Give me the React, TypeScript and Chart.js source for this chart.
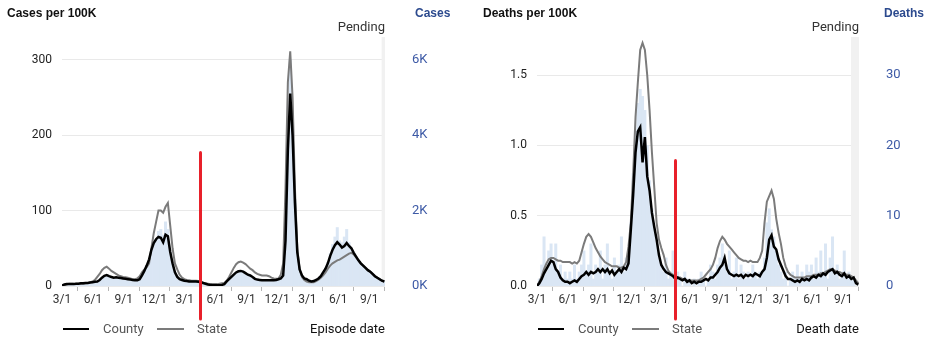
import React, { useEffect, useRef } from "react";
import { Chart, registerables } from "chart.js";
Chart.register(...registerables);

// Weekly series, week 0 = 2020-03-01, one value every 7 days
const WEEK_DAYS = 7;
const X_MAX_DAY = 961; // ~2022-10-18
const MARKER_DAY = 411; // 2021-04-16

const tickDays = [0, 92, 184, 275, 365, 457, 549, 640, 730, 822, 914];
const tickLabels = ["3/1", "6/1", "9/1", "12/1", "3/1", "6/1", "9/1", "12/1", "3/1", "6/1", "9/1"];

// Cases per 100K (7-day avg)
const casesCounty = [
  0.5, 2, 2.5, 2.5, 2.5, 2.5, 3, 3, 3.5, 3.5, 4, 4, 4.5,
  5, 5.5, 6, 8, 11, 13.5, 14.5, 13, 12, 11, 11.5, 11, 10.5,
  10, 9.5, 9, 8.5, 8, 7.5, 7.5, 9, 14, 20, 27, 35, 48,
  57, 62, 65, 64, 58, 68, 66, 45, 30, 18, 12, 9, 8,
  7, 6.5, 6, 6, 6, 6, 5.5, 5, 4, 3, 2, 1.5, 1,
  1, 1, 1, 1.5, 2.5, 6, 9, 12, 15, 18, 19.5, 20, 19,
  17, 15, 14, 12, 9.5, 8.5, 8, 7.5, 7.5, 7.5, 7.5, 7.5, 7.5,
  8, 9, 10, 14, 60, 180, 255, 200, 110, 45, 22, 14, 10,
  9, 7, 6, 6.5, 8, 10, 13, 18, 23, 30, 40, 48, 54,
  58, 55, 51, 53, 57, 53, 50, 44, 39, 34, 30, 27, 24,
  21, 19, 16, 13, 11, 9, 7, 6,
];
const casesState = [
  0, 1, 2, 3, 3, 3, 3, 3, 3, 3, 3.5, 4, 5,
  6, 8, 12, 16, 21, 24, 25.5, 23, 20, 18, 16, 14, 13,
  12, 11.5, 11, 10, 9, 9, 10, 13, 18, 22, 25, 30, 50,
  70, 85, 100, 100, 97, 105, 110, 80, 50, 30, 22, 15, 11,
  9, 8, 7.5, 7, 7, 7, 6.5, 6, 4.5, 3.5, 3, 2.5, 2.5,
  2.5, 2.5, 3, 3.5, 4, 7, 12, 18, 24, 29, 31.5, 32.5, 31,
  29, 26, 23, 21, 18, 16, 15, 14, 14, 14, 13, 11, 10,
  9.5, 10, 15, 30, 130, 270, 311, 250, 130, 50, 22, 12, 8,
  6, 5, 5, 5, 6.5, 8.5, 11, 14, 18, 23, 27, 30, 32,
  34, 35, 37, 39, 41, 43, 44, 42, 38, 34, 30, 27, 24,
  21, 19, 16, 13, 11, 9, 7, 6,
];
// Daily county cases
const casesDaily = [
  10, 40, 50, 50, 50, 50, 60, 60, 70, 70, 80, 80, 90,
  100, 110, 120, 160, 220, 270, 290, 260, 240, 220, 230, 220, 210,
  200, 190, 180, 170, 160, 150, 150, 180, 280, 400, 540, 700, 960,
  1150, 1250, 1450, 1500, 1350, 1700, 1500, 900, 600, 360, 240, 180, 160,
  140, 130, 120, 120, 120, 120, 110, 100, 80, 60, 40, 30, 20,
  20, 20, 20, 30, 50, 120, 180, 240, 300, 360, 400, 410, 380,
  340, 300, 280, 240, 190, 170, 160, 150, 150, 150, 150, 150, 150,
  160, 180, 200, 300, 1300, 3800, 6000, 4300, 2300, 900, 440, 280, 200,
  180, 140, 120, 130, 160, 200, 260, 360, 480, 620, 860, 1100, 1300,
  1550, 1200, 1150, 1300, 1500, 1150, 1000, 880, 780, 680, 600, 540, 480,
  420, 380, 320, 260, 220, 180, 140, 120,
];

// Deaths per 100K (7-day avg)
const deathsCounty = [
  0, 0.02, 0.05, 0.09, 0.12, 0.15, 0.18, 0.17, 0.12, 0.1, 0.06, 0.04, 0.03,
  0.03, 0.02, 0.03, 0.04, 0.03, 0.05, 0.07, 0.08, 0.1, 0.08, 0.1, 0.09, 0.1,
  0.12, 0.1, 0.12, 0.1, 0.12, 0.09, 0.11, 0.08, 0.1, 0.12, 0.1, 0.13, 0.12,
  0.16, 0.4, 0.65, 0.95, 1.1, 1.13, 0.88, 1.06, 0.78, 0.68, 0.52, 0.42, 0.33,
  0.22, 0.15, 0.12, 0.1, 0.09, 0.08, 0.07, 0.05, 0.06, 0.05, 0.04, 0.05, 0.03,
  0.04, 0.02, 0.03, 0.02, 0.03, 0.03, 0.04, 0.05, 0.04, 0.06, 0.06, 0.08, 0.1,
  0.13, 0.15, 0.2, 0.12, 0.09, 0.08, 0.07, 0.08, 0.07, 0.08, 0.06, 0.08, 0.07,
  0.08, 0.07, 0.09, 0.08, 0.07, 0.1, 0.12, 0.2, 0.33, 0.36, 0.28, 0.26, 0.19,
  0.15, 0.11, 0.07, 0.05, 0.05, 0.04, 0.03, 0.04, 0.03, 0.05, 0.04, 0.05, 0.04,
  0.06, 0.07, 0.06, 0.08, 0.07, 0.09, 0.08, 0.1, 0.11, 0.12, 0.09, 0.1, 0.08,
  0.07, 0.09, 0.06, 0.07, 0.05, 0.06, 0.02, 0.01,
];
const deathsState = [
  0, 0.03, 0.07, 0.12, 0.16, 0.19, 0.2, 0.2, 0.19, 0.18, 0.18, 0.17, 0.17,
  0.17, 0.17, 0.16, 0.17, 0.16, 0.18, 0.24, 0.3, 0.35, 0.37, 0.35, 0.31, 0.27,
  0.24, 0.21, 0.19, 0.17, 0.16, 0.15, 0.14, 0.14, 0.14, 0.13, 0.13, 0.14, 0.17,
  0.28, 0.45, 0.8, 1.2, 1.45, 1.68, 1.73, 1.68, 1.5, 1.25, 0.95, 0.7, 0.45,
  0.33, 0.27, 0.22, 0.15, 0.11, 0.09, 0.08, 0.07, 0.06, 0.06, 0.05, 0.05, 0.04,
  0.04, 0.04, 0.04, 0.04, 0.04, 0.05, 0.06, 0.08, 0.1, 0.12, 0.15, 0.2, 0.27,
  0.32, 0.35, 0.33, 0.3, 0.28, 0.26, 0.24, 0.22, 0.2, 0.19, 0.18, 0.18, 0.17,
  0.18, 0.17, 0.17, 0.17, 0.2, 0.25, 0.45, 0.6, 0.64, 0.68, 0.62, 0.48, 0.38,
  0.3, 0.2, 0.14, 0.1, 0.08, 0.07, 0.06, 0.06, 0.06, 0.06, 0.06, 0.07, 0.07,
  0.07, 0.08, 0.08, 0.08, 0.09, 0.09, 0.1, 0.11, 0.12, 0.12, 0.11, 0.1, 0.1,
  0.09, 0.09, 0.08, 0.08, 0.07, 0.06, 0.04, 0.02,
];
// Daily county deaths
const deathsDaily = [
  0, 1, 3, 7, 2, 5, 6, 3, 6, 2, 3, 1, 2,
  1, 2, 1, 3, 1, 2, 3, 5, 2, 3, 6, 1, 3,
  2, 5, 1, 3, 6, 2, 1, 4, 2, 3, 7, 2, 4,
  5, 9, 16, 22, 26, 28, 27, 25, 20, 15, 11, 8, 6,
  4, 3, 2, 4, 1, 2, 5, 1, 2, 1, 0, 2, 1,
  1, 0, 1, 0, 1, 2, 1, 0, 1, 3, 2, 1, 3,
  4, 6, 3, 2, 5, 1, 2, 4, 1, 3, 2, 1, 2,
  1, 3, 2, 1, 2, 2, 4, 9, 11, 8, 7, 5, 3,
  2, 1, 2, 0, 1, 2, 1, 3, 1, 2, 1, 3, 2,
  3, 1, 4, 2, 5, 2, 6, 1, 4, 7, 2, 3, 1,
  2, 5, 1, 2, 1, 1, 0, 0,
];

const casesRateTicks = [0, 100, 200, 300];
const casesRateTickLabels = ["0", "100", "200", "300"];
const casesCountTicks = [0, 2000, 4000, 6000];
const casesCountTickLabels = ["0K", "2K", "4K", "6K"];
const deathsRateTicks = [0, 0.5, 1, 1.5];
const deathsRateTickLabels = ["0.0", "0.5", "1.0", "1.5"];
const deathsCountTicks = [0, 10, 20, 30];
const deathsCountTickLabels = ["0", "10", "20", "30"];

const W = 468;
const H = 343;
const TOP = 37;
const BOTTOM = 286;

type PanelProps = {
  left: number;
  plotLeft: number;
  plotRight: number;
  rateMax: number;
  countMax: number;
  rateTicks: number[];
  rateTickLabels: string[];
  countTicks: number[];
  countTickLabels: string[];
  county: number[];
  state: number[];
  daily: number[];
  pendingDay: number;
  markerTop: number;
  rateTitle: string;
  countTitle: string;
  dateLabel: string;
  titleLeft: number;
  countTitleLeft: number;
};

function Panel(p: PanelProps) {
  const ref = useRef<HTMLCanvasElement | null>(null);
  useEffect(() => {
    if (!ref.current) return;
    const pts = (arr: number[]) => arr.map((v, i) => ({ x: i * WEEK_DAYS, y: v }));
    const overlay = {
      id: "overlay",
      beforeDatasetsDraw(chart: any) {
        const { ctx, chartArea, scales } = chart;
        const x0 = scales.x.getPixelForValue(p.pendingDay);
        ctx.save();
        ctx.fillStyle = "#f1f1f1";
        ctx.fillRect(x0, chartArea.top, chartArea.right - x0, chartArea.bottom - chartArea.top);
        ctx.restore();
      },
      afterDatasetsDraw(chart: any) {
        const { ctx, chartArea, scales } = chart;
        const x = Math.round(scales.x.getPixelForValue(MARKER_DAY)) + 0.5;
        const yTop = scales.y.getPixelForValue(p.markerTop);
        ctx.save();
        ctx.strokeStyle = "#e8202a";
        ctx.lineWidth = 3;
        ctx.lineCap = "round";
        ctx.beginPath();
        ctx.moveTo(x, yTop);
        ctx.lineTo(x, chartArea.bottom + 33);
        ctx.stroke();
        ctx.restore();
      },
    };
    const chart = new Chart(ref.current, {
      type: "bar",
      data: {
        datasets: [
          {
            type: "line",
            label: "County",
            data: pts(p.county),
            yAxisID: "y",
            borderColor: "#000000",
            borderWidth: 2.5,
            pointRadius: 0,
            tension: 0,
            order: 1,
          } as any,
          {
            type: "line",
            label: "State",
            data: pts(p.state),
            yAxisID: "y",
            borderColor: "#7b7b7b",
            borderWidth: 2,
            pointRadius: 0,
            tension: 0,
            order: 2,
          } as any,
          {
            type: "bar",
            label: "Daily",
            data: pts(p.daily),
            yAxisID: "y1",
            backgroundColor: "#dae6f4",
            borderWidth: 0,
            barPercentage: 1,
            categoryPercentage: 1,
            order: 3,
          } as any,
        ],
      },
      options: {
        responsive: false,
        animation: false,
        layout: { padding: { top: TOP, left: 0, right: 0, bottom: 0 } },
        plugins: { legend: { display: false }, tooltip: { enabled: false }, title: { display: false } },
        scales: {
          x: {
            type: "linear",
            min: 0,
            max: X_MAX_DAY,
            offset: false,
            afterBuildTicks: (s: any) => {
              s.ticks = tickDays.map((v) => ({ value: v }));
            },
            afterFit: (s: any) => {
              s.height = H - BOTTOM;
            },
            ticks: {
              autoSkip: false,
              maxRotation: 0,
              padding: 2,
              color: "#333",
              font: { size: 12 },
              callback: (_v: any, i: number) => tickLabels[i],
            },
            grid: { drawOnChartArea: false, drawTicks: true, tickLength: 5, color: "#b5b5b5" },
            border: { display: false },
          },
          y: {
            position: "left",
            min: 0,
            max: p.rateMax,
            afterBuildTicks: (s: any) => {
              s.ticks = p.rateTicks.map((v) => ({ value: v }));
            },
            afterFit: (s: any) => {
              s.width = p.plotLeft;
            },
            ticks: {
              padding: 10,
              color: "#222",
              font: { size: 12 },
              callback: (_v: any, i: number) => p.rateTickLabels[i],
            },
            grid: { color: "#e9e9e9", drawTicks: false },
            border: { display: false },
          },
          y1: {
            position: "right",
            min: 0,
            max: p.countMax,
            afterBuildTicks: (s: any) => {
              s.ticks = p.countTicks.map((v) => ({ value: v }));
            },
            afterFit: (s: any) => {
              s.width = W - p.plotRight;
            },
            ticks: {
              padding: 27,
              color: "#3d5aa6",
              font: { size: 13 },
              callback: (_v: any, i: number) => p.countTickLabels[i],
            },
            grid: { display: false, drawTicks: false },
            border: { display: false },
          },
        },
      } as any,
      plugins: [overlay],
    });
    return () => chart.destroy();
  }, []);

  const sans = "Roboto, Arial, sans-serif";
  const text = (style: React.CSSProperties, content: string) => (
    <span style={{ position: "absolute", whiteSpace: "nowrap", lineHeight: "16px", ...style }}>{content}</span>
  );

  return (
    <div style={{ position: "absolute", left: p.left, top: 0, width: W, height: H }}>
      <canvas ref={ref} width={W} height={H} style={{ position: "absolute", left: 0, top: 0, width: W, height: H }} />
      {text({ left: p.titleLeft, top: 5, fontFamily: "Arial, 'Liberation Sans', sans-serif", fontWeight: 700, fontSize: 12, color: "#111" }, p.rateTitle)}
      {text({ left: p.countTitleLeft, top: 5, fontFamily: "Arial, 'Liberation Sans', sans-serif", fontWeight: 700, fontSize: 12, color: "#2c4a8e" }, p.countTitle)}
      {text({ right: W - p.plotRight, top: 19, fontFamily: sans, fontSize: 13, color: "#333" }, "Pending")}
      <div style={{ position: "absolute", left: p.plotLeft + 1, top: 328, width: 26, height: 2, background: "#000" }} />
      {text({ left: p.plotLeft + 41, top: 321, fontFamily: sans, fontSize: 13, color: "#555" }, "County")}
      <div style={{ position: "absolute", left: p.plotLeft + 95, top: 328, width: 27, height: 2, background: "#7b7b7b" }} />
      {text({ left: p.plotLeft + 135, top: 321, fontFamily: sans, fontSize: 13, color: "#555" }, "State")}
      {text({ right: W - p.plotRight, top: 321, fontFamily: sans, fontSize: 13, color: "#111" }, p.dateLabel)}
    </div>
  );
}

export default function App() {
  Chart.defaults.font.family = "Roboto, Arial, sans-serif";
  return (
    <div style={{ position: "fixed", left: 0, top: 0, width: 936, height: 343, background: "#fff", overflow: "hidden" }}>
      <Panel
        left={0}
        plotLeft={62}
        plotRight={385}
        rateMax={330}
        countMax={6600}
        rateTicks={casesRateTicks}
        rateTickLabels={casesRateTickLabels}
        countTicks={casesCountTicks}
        countTickLabels={casesCountTickLabels}
        county={casesCounty}
        state={casesState}
        daily={casesDaily}
        pendingDay={951}
        markerTop={177}
        rateTitle="Cases per 100K"
        countTitle="Cases"
        dateLabel="Episode date"
        titleLeft={7}
        countTitleLeft={415}
      />
      <Panel
        left={468}
        plotLeft={69}
        plotRight={391}
        rateMax={1.772}
        countMax={35.44}
        rateTicks={deathsRateTicks}
        rateTickLabels={deathsRateTickLabels}
        countTicks={deathsCountTicks}
        countTickLabels={deathsCountTickLabels}
        county={deathsCounty}
        state={deathsState}
        daily={deathsDaily}
        pendingDay={937}
        markerTop={0.893}
        rateTitle="Deaths per 100K"
        countTitle="Deaths"
        dateLabel="Death date"
        titleLeft={15}
        countTitleLeft={416}
      />
    </div>
  );
}
